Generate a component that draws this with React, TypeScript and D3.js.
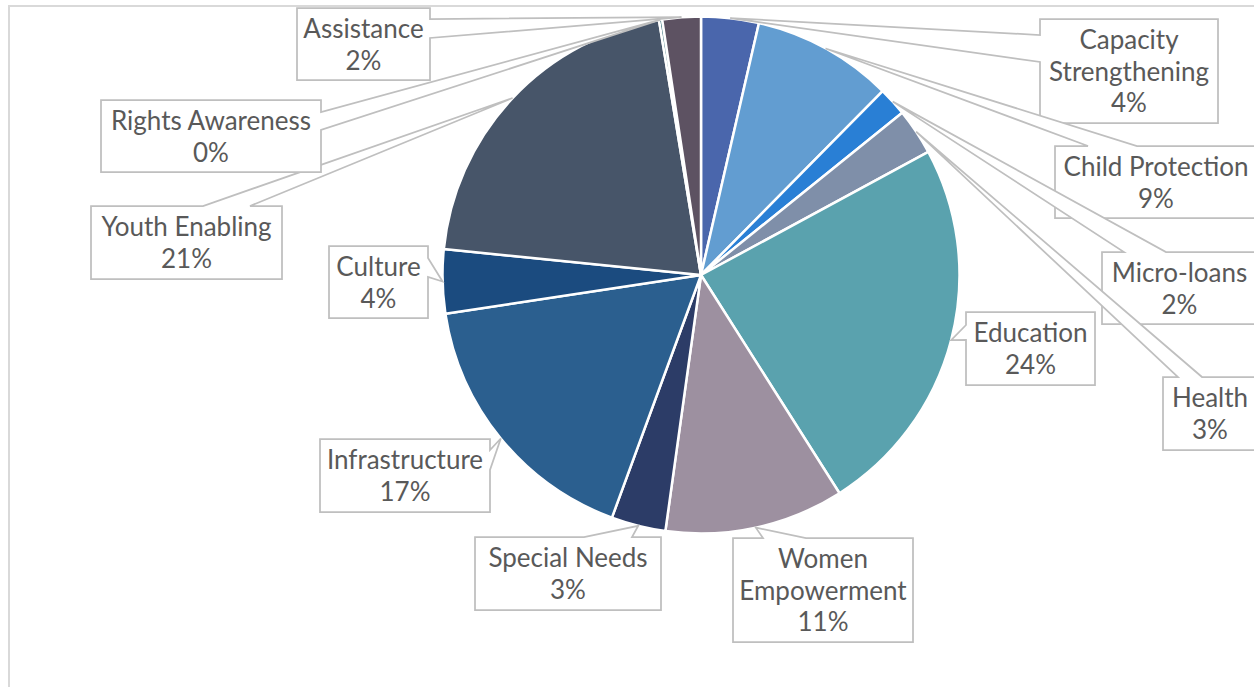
import React from "react";
import * as d3 from "d3";

const categories = [
  "Capacity Strengthening",
  "Child Protection",
  "Micro-loans",
  "Health",
  "Education",
  "Women Empowerment",
  "Special Needs",
  "Infrastructure",
  "Culture",
  "Youth Enabling",
  "Rights Awareness",
  "Assistance",
];
const values = [3.6, 8.8, 1.8, 2.9, 23.9, 11.2, 3.4, 17.0, 4.0, 20.8, 0.2, 2.4];
const colors = [
  "#4A66AC", "#629DD1", "#297FD5", "#7F8FA9", "#5AA2AE", "#9D90A0",
  "#2C3C67", "#2B5F8F", "#1B4B7F", "#475569", "#2F6A73", "#5D5262",
];

// label box layout: x, y, w, h, side of pointer, pointer base a/b, split name into two lines
const labelLayout = [
  { x: 1040, y: 19, w: 178, h: 104, side: "left", a: 35, b: 62, split: true },
  { x: 1055, y: 146, w: 202, h: 72, side: "top", a: 1088, b: 1137, split: false },
  { x: 1102, y: 252, w: 155, h: 72, side: "top", a: 1124, b: 1166, split: false },
  { x: 1163, y: 377, w: 94, h: 73, side: "top", a: 1178, b: 1202, split: false },
  { x: 966, y: 312, w: 129, h: 73, side: "left", a: 325, b: 340, split: false },
  { x: 733, y: 538, w: 180, h: 104, side: "top", a: 763, b: 806, split: true },
  { x: 475, y: 537, w: 186, h: 73, side: "top", a: 584, b: 632, split: false },
  { x: 320, y: 439, w: 170, h: 73, side: "right", a: 450, b: 470, split: false },
  { x: 329, y: 246, w: 99, h: 72, side: "right", a: 258, b: 277, split: false },
  { x: 91, y: 206, w: 191, h: 73, side: "top", a: 203, b: 250, split: false },
  { x: 101, y: 100, w: 220, h: 72, side: "right", a: 112, b: 130, split: false },
  { x: 297, y: 8, w: 133, h: 72, side: "right", a: 19, b: 38, split: false },
];

const W = 1254;
const H = 687;
const cx = 701;
const cy = 275;
const R = 258.5;
const FONT = "Lato, 'Liberation Sans', sans-serif";

function calloutPath(L: any, tx: number, ty: number) {
  const { x, y, w, h, side } = L;
  const a = Math.min(L.a, L.b);
  const b = Math.max(L.a, L.b);
  const p: string[] = [`M${x},${y}`];
  if (side === "top") p.push(`L${a},${y}L${tx},${ty}L${b},${y}`);
  p.push(`L${x + w},${y}`);
  if (side === "right") p.push(`L${x + w},${a}L${tx},${ty}L${x + w},${b}`);
  p.push(`L${x + w},${y + h}`);
  p.push(`L${x},${y + h}`);
  if (side === "left") p.push(`L${x},${b}L${tx},${ty}L${x},${a}`);
  p.push("Z");
  return p.join("");
}

export default function App() {
  const total = d3.sum(values);
  const pie = d3
    .pie<number>()
    .sort(null)
    .value((d) => d)
    .startAngle(0)
    .endAngle(2 * Math.PI);
  const arcs = pie(values);
  const arc = d3.arc<any>().innerRadius(0).outerRadius(R);

  return (
    <svg
      width={W}
      height={H}
      style={{ position: "absolute", left: 0, top: 0, background: "#fff" }}
    >
      <path d={`M9,${H}V6H${W}`} fill="none" stroke="#d9d9d9" strokeWidth={2} />
      <g transform={`translate(${cx},${cy})`}>
        {arcs.map((d, i) => (
          <path
            key={i}
            d={arc(d) as string}
            fill={colors[i]}
            stroke="#fff"
            strokeWidth={2.5}
            strokeLinejoin="round"
          />
        ))}
      </g>
      {arcs.map((d, i) => {
        const L = labelLayout[i];
        const mid = (d.startAngle + d.endAngle) / 2;
        const tx = cx + R * Math.sin(mid);
        const ty = cy - R * Math.cos(mid);
        const name = categories[i];
        const nameLines = L.split
          ? [name.slice(0, name.indexOf(" ")), name.slice(name.indexOf(" ") + 1)]
          : [name];
        const lines = [...nameLines, `${Math.round((values[i] / total) * 100)}%`];
        const centerX = L.x + L.w / 2;
        return (
          <g key={"l" + i}>
            <path
              d={calloutPath(L, tx, ty)}
              fill="#fff"
              stroke="#bfbfbf"
              strokeWidth={1.75}
              strokeLinejoin="miter"
            />
            <text
              fontFamily={FONT}
              fontSize={26}
              fill="#595959"
              textAnchor="middle"
            >
              {lines.map((t, j) => (
                <tspan key={j} x={centerX} y={L.y + 30 + j * 31.6}>
                  {t}
                </tspan>
              ))}
            </text>
          </g>
        );
      })}
    </svg>
  );
}
